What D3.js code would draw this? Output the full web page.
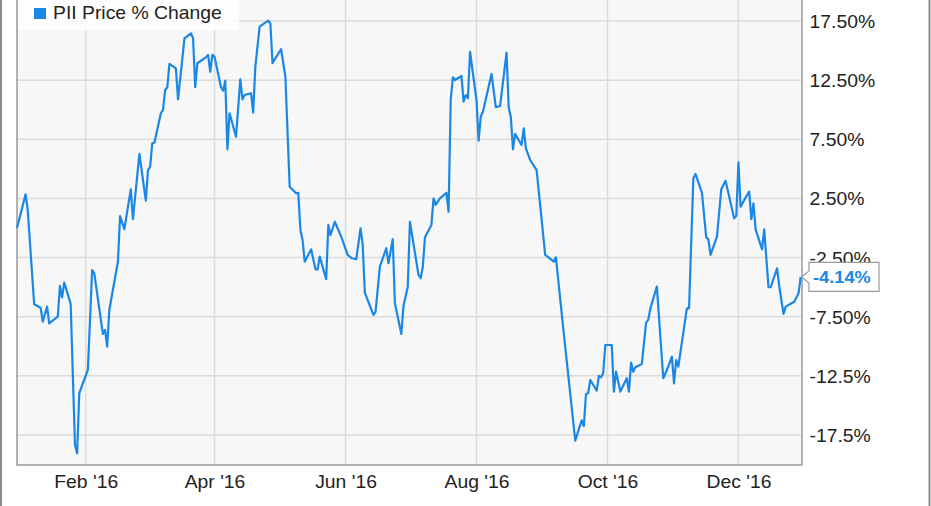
<!DOCTYPE html>
<html>
<head>
<meta charset="utf-8">
<script src="https://cdn.jsdelivr.net/npm/d3@7"></script>
<style>
  html, body { margin: 0; padding: 0; background: #ffffff; }
  svg { display: block; }
</style>
</head>
<body>
<svg id="chart" width="931" height="506"></svg>
<script>
// ---------------- DATA ----------------
const seriesName = "PII Price % Change";
const lastLabel = "-4.14%";

const dates = [
  "2015-12-31","2016-01-04","2016-01-05","2016-01-08","2016-01-11","2016-01-12","2016-01-14","2016-01-15",
  "2016-01-19","2016-01-20","2016-01-21","2016-01-22","2016-01-25","2016-01-27","2016-01-28","2016-01-29",
  "2016-02-02","2016-02-04","2016-02-05","2016-02-09","2016-02-10","2016-02-11","2016-02-12","2016-02-16",
  "2016-02-17","2016-02-19","2016-02-22","2016-02-23","2016-02-26","2016-02-29","2016-03-01","2016-03-02",
  "2016-03-03","2016-03-04","2016-03-07","2016-03-08","2016-03-09","2016-03-10","2016-03-11","2016-03-14",
  "2016-03-15","2016-03-18","2016-03-21","2016-03-22","2016-03-23","2016-03-24","2016-03-28","2016-03-29",
  "2016-03-30","2016-03-31","2016-04-01","2016-04-04","2016-04-05","2016-04-06","2016-04-07","2016-04-08",
  "2016-04-11","2016-04-13","2016-04-14","2016-04-15","2016-04-18","2016-04-19","2016-04-20","2016-04-22",
  "2016-04-26","2016-04-27","2016-04-28","2016-04-29","2016-05-02","2016-05-04","2016-05-06","2016-05-09",
  "2016-05-10","2016-05-11","2016-05-12","2016-05-13","2016-05-16","2016-05-18","2016-05-19","2016-05-20",
  "2016-05-23","2016-05-24","2016-05-25","2016-05-27","2016-05-30","2016-06-02","2016-06-04","2016-06-06",
  "2016-06-08","2016-06-09","2016-06-10","2016-06-14","2016-06-15","2016-06-17","2016-06-20","2016-06-21",
  "2016-06-23","2016-06-24","2016-06-27","2016-06-28","2016-06-30","2016-07-01","2016-07-05","2016-07-06",
  "2016-07-07","2016-07-08","2016-07-11","2016-07-12","2016-07-13","2016-07-15","2016-07-18","2016-07-19",
  "2016-07-20","2016-07-21","2016-07-22","2016-07-25","2016-07-26","2016-07-27","2016-07-28","2016-07-29",
  "2016-08-01","2016-08-02","2016-08-03","2016-08-04","2016-08-08","2016-08-10","2016-08-12","2016-08-15",
  "2016-08-16","2016-08-17","2016-08-18","2016-08-19","2016-08-22","2016-08-23","2016-08-24","2016-08-26",
  "2016-08-29","2016-08-31","2016-09-02","2016-09-05","2016-09-06","2016-09-07","2016-09-10","2016-09-16",
  "2016-09-19","2016-09-20","2016-09-21","2016-09-22","2016-09-23","2016-09-26","2016-09-27","2016-09-28",
  "2016-09-29","2016-09-30","2016-10-03","2016-10-04","2016-10-05","2016-10-07","2016-10-10","2016-10-11",
  "2016-10-12","2016-10-13","2016-10-14","2016-10-17","2016-10-19","2016-10-20","2016-10-21","2016-10-24",
  "2016-10-27","2016-10-29","2016-10-31","2016-11-01","2016-11-02","2016-11-03","2016-11-07","2016-11-08",
  "2016-11-10","2016-11-11","2016-11-14","2016-11-16","2016-11-17","2016-11-18","2016-11-21","2016-11-23",
  "2016-11-25","2016-11-29","2016-11-30","2016-12-01","2016-12-02","2016-12-05","2016-12-06","2016-12-07",
  "2016-12-08","2016-12-09","2016-12-12","2016-12-13","2016-12-15","2016-12-16","2016-12-19","2016-12-20",
  "2016-12-22","2016-12-23","2016-12-27","2016-12-29","2016-12-30"
];

const values = [
  0.0, 2.85, 1.52, -6.45, -6.74, -7.92, -6.65, -8.06,
  -7.5, -4.9, -5.86, -4.62, -6.42, -18.34, -19.05, -13.97,
  -12.0, -3.55, -3.83, -8.96, -8.62, -10.03, -6.93, -2.85,
  1.0, -0.1, 3.27, 0.74, 6.26, 2.31, 4.9, 5.18,
  7.16, 7.21, 9.7, 9.98, 11.67, 11.9, 13.87, 13.5,
  10.88, 16.04, 16.46, 16.04, 11.9, 13.93, 14.43, 14.63,
  13.21, 14.63, 14.48, 11.9, 11.61, 12.45, 6.65, 9.7,
  7.72, 12.57, 10.88, 11.24, 11.39, 9.75, 13.64, 17.02,
  17.53, 17.3, 13.93, 14.26, 15.11, 12.79, 3.49, 2.93,
  2.98, -0.17, -1.01, -2.85, -1.8, -3.49, -3.49, -2.42,
  -4.33, 0.26, -0.59, 0.53, -0.73, -2.28, -2.56, -2.64,
  -0.02, -1.43, -5.47, -7.35, -7.07, -3.27, -1.71, -2.98,
  -0.95, -6.36, -8.96, -6.59, -4.96, 0.53, -3.97, -4.25,
  -3.27, -0.79, 0.26, 2.51, 1.95, 2.51, 2.98, 1.38,
  10.82, 12.74, 12.51, 12.85, 10.68, 11.24, 10.97, 14.9,
  10.82, 7.38, 9.41, 9.83, 13.02, 10.21, 10.32, 14.82,
  10.21, 9.36, 6.65, 7.95, 7.02, 8.43, 6.74, 5.75,
  4.9, 1.32, -2.28, -2.7, -2.85, -2.48, -7.78, -17.98,
  -16.26, -16.74, -14.03, -13.97, -12.85, -13.75, -12.51, -12.62,
  -12.28, -9.89, -9.89, -13.83, -12.15, -13.83, -12.7, -13.83,
  -11.38, -12.15, -11.77, -11.49, -8.0, -7.77, -6.79, -4.96,
  -12.7, -11.86, -10.88, -13.13, -11.16, -11.72, -6.79, -6.79,
  4.2, 4.57, 2.98, -0.79, -0.95, -2.28, -0.73, 3.27,
  4.0, 0.82, 1.02, 5.56, 1.8, 2.79, 3.07, 0.74,
  2.09, -0.11, -1.8, -0.11, -5.01, -5.01, -3.41, -4.9,
  -7.27, -6.65, -6.23, -5.52, -4.14
];

const yTickValues = [17.5, 12.5, 7.5, 2.5, -2.5, -7.5, -12.5, -17.5];
const yTickLabels = ["17.50%", "12.50%", "7.50%", "2.50%", "-2.50%", "-7.50%", "-12.5%", "-17.5%"];
const xTickDates = ["2016-02-01", "2016-04-01", "2016-06-01", "2016-08-01", "2016-10-01", "2016-12-01"];
const xDomain = ["2015-12-31", "2016-12-30"];

// ---------------- LAYOUT ----------------
const W = 931, H = 506;
const plot = { left: 17, right: 802, top: -3, bottom: 465 };
const lineColor = "#1a87e6";
const textColor = "#222222";
const font = "'Liberation Sans', Arial, Helvetica, sans-serif";
const SX = 1.075; // horizontal stretch of the text in the source image

const parse = d3.timeParse("%Y-%m-%d");
const data = dates.map((d, i) => ({ date: parse(d), value: values[i] }));

const svg = d3.select("#chart");

const x = d3.scaleTime()
  .domain(xDomain.map(parse))
  .range([plot.left, 800.7]);

const y = d3.scaleLinear()
  .domain([-17.5, 17.5])
  .range([435, 21]);

// outer frame lines
svg.append("line").attr("x1", 1).attr("x2", 1).attr("y1", 0).attr("y2", H)
  .attr("stroke", "#8c8c8c").attr("stroke-width", 2);
svg.append("line").attr("x1", 929.5).attr("x2", 929.5).attr("y1", 0).attr("y2", H)
  .attr("stroke", "#8c8c8c").attr("stroke-width", 2);

// plot background
svg.append("rect")
  .attr("x", plot.left).attr("y", plot.top)
  .attr("width", plot.right - plot.left).attr("height", plot.bottom - plot.top)
  .attr("fill", "#f7f7f7");

// gridlines
const grid = svg.append("g");
grid.selectAll("line.h").data(yTickValues).enter().append("line")
  .attr("x1", plot.left).attr("x2", plot.right)
  .attr("y1", d => y(d)).attr("y2", d => y(d))
  .attr("stroke", "#dcdcdc").attr("stroke-width", 1.5);
grid.selectAll("line.v").data(xTickDates.map(parse)).enter().append("line")
  .attr("x1", d => x(d)).attr("x2", d => x(d))
  .attr("y1", plot.top).attr("y2", plot.bottom)
  .attr("stroke", "#dcdcdc").attr("stroke-width", 1.5);

// plot border (left, right, bottom)
svg.append("path")
  .attr("d", `M${plot.left},${plot.top}V${plot.bottom}H${plot.right}V${plot.top}`)
  .attr("fill", "none").attr("stroke", "#999999").attr("stroke-width", 1.5);

// line
const line = d3.line().x(d => x(d.date)).y(d => y(d.value));
svg.append("path")
  .datum(data)
  .attr("d", line)
  .attr("fill", "none")
  .attr("stroke", lineColor)
  .attr("stroke-width", 2.2)
  .attr("stroke-linejoin", "round");

// y axis (right)
const yAxis = d3.axisRight(y)
  .tickValues(yTickValues)
  .tickFormat((d, i) => yTickLabels[i])
  .tickSize(0)
  .tickPadding(7);
const gy = svg.append("g").attr("transform", `translate(${plot.right},0)`).call(yAxis);
gy.select(".domain").remove();
gy.selectAll("text")
  .attr("font-family", font).attr("font-size", 18).attr("fill", textColor)
  .attr("dy", "0.36em")
  .attr("transform", `scale(${SX},1)`);

// x axis (bottom)
const xAxis = d3.axisBottom(x)
  .tickValues(xTickDates.map(parse))
  .tickFormat(d3.timeFormat("%b '%y"))
  .tickSize(0)
  .tickPadding(10);
const gx = svg.append("g").attr("transform", `translate(0,${plot.bottom})`).call(xAxis);
gx.select(".domain").remove();
gx.selectAll("text")
  .attr("font-family", font).attr("font-size", 18).attr("fill", textColor)
  .attr("transform", `scale(${SX},1)`);

// last value label with pointer
const last = data[data.length - 1];
const ly = y(last.value);
const bx0 = 809, bx1 = 879, bh = 29;
svg.append("path")
  .attr("d", `M${bx0},${ly - bh / 2}H${bx1}V${ly + bh / 2}H${bx0}V${ly + 6}L${x(last.date) + 1},${ly}L${bx0},${ly - 6}Z`)
  .attr("fill", "#ffffff").attr("stroke", "#9a9a9a").attr("stroke-width", 1.2);
svg.append("text")
  .attr("transform", `translate(${bx0 + 4},${ly + 6.5}) scale(${SX},1)`)
  .attr("font-family", font).attr("font-size", 17).attr("font-weight", "bold")
  .attr("fill", lineColor)
  .text(lastLabel);

// legend
const lg = svg.append("g");
lg.append("rect").attr("x", plot.left + 1).attr("y", -1).attr("width", 221).attr("height", 31)
  .attr("fill", "#ffffff").attr("fill-opacity", 0.85);
lg.append("rect").attr("x", 34).attr("y", 8).attr("width", 12).attr("height", 11)
  .attr("fill", lineColor);
lg.append("text")
  .attr("transform", `translate(53,18.8) scale(${SX},1)`)
  .attr("font-family", font).attr("font-size", 18).attr("fill", textColor)
  .text(seriesName);
</script>
</body>
</html>
